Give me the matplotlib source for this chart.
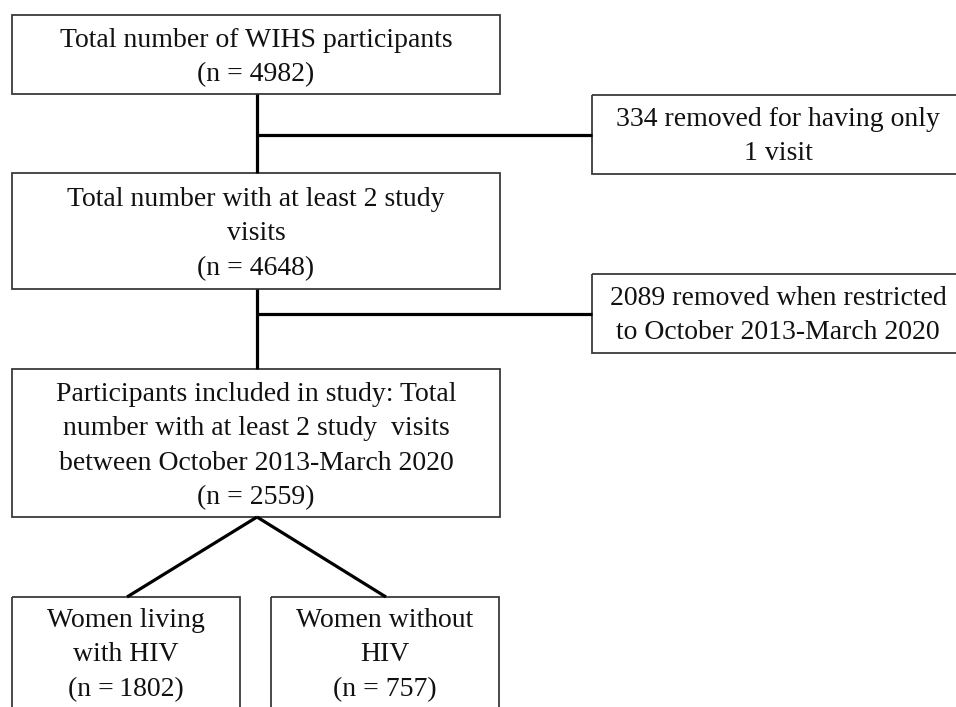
import matplotlib.pyplot as plt
from matplotlib.patches import Rectangle

# -------------- flowchart content --------------
main_labels = ['Total number of WIHS participants',
               'Total number with at least 2 study\nvisits',
               'Participants included in study: Total\nnumber with at least 2 study  visits\nbetween October 2013-March 2020']
main_counts = [4982, 4648, 2559]

removed_counts = [334, 2089]
removed_labels = ['removed for having only\n1 visit',
                  'removed when restricted\nto October 2013-March 2020']

group_labels = ['Women living\nwith HIV', 'Women without\nHIV']
group_counts = [1802, 757]
group_fmt = ['(n =\u2009{})', '(n = {})']

# -------------- layout (pixels) --------------
W, H = 956, 707
main_boxes = [(12, 15, 500, 94), (12, 173, 500, 289), (12, 369, 500, 517)]
side_boxes = [(592, 95, 966, 174), (592, 274, 966, 353)]
group_boxes = [(12, 597, 240, 720), (271, 597, 499, 720)]
trunk_x = 257

fig = plt.figure(figsize=(W / 100, H / 100), dpi=100)
ax = fig.add_axes([0, 0, 1, 1])
ax.set_xlim(0, W)
ax.set_ylim(H, 0)
ax.axis('off')

font = dict(family='Liberation Serif', fontsize=20, ha='center', va='center',
            linespacing=1.5, color='#111111')
box_style = dict(fill=False, edgecolor='#3a3a3a', linewidth=1.3)
line_style = dict(color='black', linewidth=2.3, solid_capstyle='butt')


def draw_box(b, text, dy=3):
    x0, y0, x1, y1 = b
    ax.add_patch(Rectangle((x0, y0), x1 - x0, y1 - y0, **box_style))
    ax.text((x0 + x1) / 2, (y0 + y1) / 2 + dy, text, **font)


# main boxes
for b, lab, n in zip(main_boxes, main_labels, main_counts):
    draw_box(b, lab + '\n(n = {})'.format(n))

# side boxes, text centred on the visible part
for b, n, lab in zip(side_boxes, removed_counts, removed_labels):
    x0, y0, x1, y1 = b
    ax.add_patch(Rectangle((x0, y0), x1 - x0, y1 - y0, **box_style))
    ax.text(778, (y0 + y1) / 2 + 2, '{} {}'.format(n, lab), **font)

# group boxes (cut at the bottom edge)
for b, lab, n, f in zip(group_boxes, group_labels, group_counts, group_fmt):
    x0, y0, x1, y1 = b
    ax.add_patch(Rectangle((x0, y0), x1 - x0, y1 - y0, **box_style))
    ax.text((x0 + x1) / 2, 655, lab + '\n' + f.format(n), **font)

# trunk connectors
for upper, lower, side in zip(main_boxes[:-1], main_boxes[1:], side_boxes):
    ax.plot([trunk_x, trunk_x], [upper[3], lower[1]], **line_style)
    ym = (side[1] + side[3]) / 2
    ax.plot([trunk_x, side[0]], [ym, ym], **line_style)

# split into the two groups
src = main_boxes[-1]
for b, gx in zip(group_boxes, [127, 386]):
    ax.plot([trunk_x, gx], [src[3], b[1]], **line_style)

fig.savefig('out.png', dpi=100)
